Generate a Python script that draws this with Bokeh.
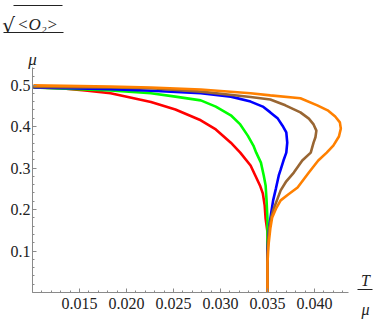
from bokeh.plotting import figure
from bokeh.models import Range1d, FixedTicker, Label, BoxAnnotation
from bokeh.embed import file_html
from bokeh.resources import INLINE

# ---- data ----
T_red = [0.0101, 0.0130, 0.0156, 0.0183, 0.0204, 0.0226, 0.0252, 0.0279, 0.0295, 0.0311, 0.0321,
         0.0332, 0.0337, 0.0342, 0.0345, 0.0347, 0.0348, 0.0350, 0.0350, 0.0350]
O_red = [0.494, 0.492, 0.487, 0.480, 0.470, 0.459, 0.441, 0.415, 0.393, 0.361, 0.337,
         0.306, 0.282, 0.258, 0.239, 0.210, 0.178, 0.145, 0.113, 0.0]

T_green = [0.0101, 0.0183, 0.0226, 0.0252, 0.0279, 0.0295, 0.0311, 0.0321, 0.0329, 0.0335,
           0.0338, 0.0343, 0.0346, 0.0348, 0.0349, 0.0350, 0.0350, 0.0350]
O_green = [0.494, 0.487, 0.480, 0.472, 0.463, 0.448, 0.427, 0.405, 0.378, 0.354,
           0.337, 0.313, 0.282, 0.258, 0.222, 0.174, 0.137, 0.0]

T_blue = [0.0101, 0.0183, 0.0226, 0.0279, 0.0311, 0.0332, 0.0345, 0.0353, 0.0361, 0.0366, 0.0370,
          0.0371, 0.0370, 0.0367, 0.0364, 0.0362, 0.0359, 0.0356, 0.0354, 0.0352, 0.0351, 0.0350, 0.0350]
O_blue = [0.494, 0.490, 0.486, 0.480, 0.472, 0.460, 0.448, 0.434, 0.419, 0.402, 0.386,
          0.361, 0.337, 0.318, 0.296, 0.282, 0.251, 0.222, 0.193, 0.161, 0.137, 0.101, 0.0]

T_brown = [0.0101, 0.0183, 0.0226, 0.0279, 0.0332, 0.0353, 0.0369, 0.0385, 0.0394, 0.0399, 0.0402,
           0.0401, 0.0399, 0.0396, 0.0387, 0.0378, 0.0370, 0.0364, 0.0360, 0.0356, 0.0354, 0.0352,
           0.0351, 0.0350, 0.0350]
O_brown = [0.495, 0.494, 0.492, 0.484, 0.471, 0.465, 0.451, 0.434, 0.419, 0.405, 0.390,
           0.374, 0.361, 0.337, 0.318, 0.289, 0.268, 0.246, 0.222, 0.198, 0.181, 0.157,
           0.133, 0.089, 0.0]

T_orange = [0.0101, 0.0183, 0.0226, 0.0279, 0.0332, 0.0353, 0.0385, 0.0403, 0.0414, 0.0422, 0.0427,
            0.0428, 0.0426, 0.0420, 0.0413, 0.0404, 0.0394, 0.0382, 0.0372, 0.0364, 0.0359, 0.0355,
            0.0353, 0.0351, 0.0350, 0.0350]
O_orange = [0.499, 0.496, 0.494, 0.489, 0.480, 0.475, 0.468, 0.451, 0.439, 0.424, 0.410,
            0.395, 0.376, 0.354, 0.337, 0.318, 0.289, 0.253, 0.236, 0.222, 0.202, 0.181,
            0.154, 0.113, 0.072, 0.0]

x_major = [0.015, 0.020, 0.025, 0.030, 0.035, 0.040]
x_minor = [round(0.010 + 0.001 * i, 3) for i in range(34)]
y_major = [0.1, 0.2, 0.3, 0.4, 0.5]
y_minor = [round(0.02 * i, 2) for i in range(28)]

series = [
    (T_red, O_red, "#FF0000"),
    (T_green, O_green, "#00FF00"),
    (T_blue, O_blue, "#0000FF"),
    (T_brown, O_brown, "#996633"),
    (T_orange, O_orange, "#FF8000"),
]

W, H = 374, 319
PX_PER_T = 9400.0     # pixels per unit of T/mu
PX_PER_O = 415.0      # pixels per unit of sqrt(O2)/mu
ORIGIN_X, ORIGIN_Y = 32, 292   # canvas position of (0.010, 0)

x0 = 0.010 - ORIGIN_X / PX_PER_T
x1 = x0 + W / PX_PER_T
y0 = -(H - ORIGIN_Y) / PX_PER_O
y1 = y0 + H / PX_PER_O

p = figure(width=W, height=H, output_backend="svg", toolbar_location=None,
           x_range=Range1d(x0, x1), y_range=Range1d(y0, y1),
           min_border=0)
p.outline_line_color = None
p.grid.visible = False
p.background_fill_color = "white"
p.border_fill_color = "white"

for xs, ys, c in series:
    p.line(xs, ys, line_color=c, line_width=2.6)

ax_col = "#8a8a8a"
for ax in (p.xaxis[0], p.yaxis[0]):
    ax.axis_line_color = ax_col
    ax.major_tick_line_color = ax_col
    ax.minor_tick_line_color = ax_col
    ax.major_tick_in = 4
    ax.major_tick_out = 0
    ax.minor_tick_in = 2
    ax.minor_tick_out = 0
    ax.major_label_text_font = "Liberation Serif"
    ax.major_label_text_font_size = "16px"
    ax.major_label_text_color = "#222222"

p.xaxis[0].fixed_location = 0.0
p.yaxis[0].fixed_location = 0.010
p.xaxis[0].bounds = (0.010, 0.04362)
p.yaxis[0].bounds = (0.0, 0.542)
p.xaxis[0].major_label_standoff = 5
p.yaxis[0].major_label_standoff = 2

p.xaxis[0].ticker = FixedTicker(ticks=x_major, minor_ticks=x_minor)
p.yaxis[0].ticker = FixedTicker(ticks=y_major, minor_ticks=y_minor)
p.xaxis[0].major_label_overrides = {v: f"{v:.3f}" for v in x_major}
p.yaxis[0].major_label_overrides = {v: f"{v:.1f}" for v in y_major}

# page coords -> frame screen coords (frame = whole canvas at page (0, 0))
def fx(px):
    return px

def fy(py):
    return H - py

def lbl(text, px, py, size, style="italic", font="Liberation Serif"):
    p.add_layout(Label(x=fx(px), y=fy(py), x_units="screen", y_units="screen", text=text,
                       text_font=font, text_font_size=size,
                       text_font_style=style, text_align="center", text_baseline="alphabetic",
                       text_color="#222222"))

def bar(px0, px1, py):
    p.add_layout(BoxAnnotation(left=fx(px0), right=fx(px1), top=fy(py) + 0.6, bottom=fy(py) - 0.6,
                               left_units="screen", right_units="screen",
                               top_units="screen", bottom_units="screen",
                               fill_color="#222222", fill_alpha=1.0, line_color=None))

# y label: sqrt(<O2>) / mu  (placed top-left of the plot)
lbl("\u221a", 8, 24, "20px", style="normal", font="DejaVu Serif")
lbl("<O\u2082>", 37, 24, "17px")
bar(13, 62, 5)
bar(3, 63, 32)
lbl("\u03bc", 32, 59, "17px")

# x label: T / mu  (placed right of the x axis)
lbl("T", 365, 280, "16px")
bar(357, 372, 289)
lbl("\u03bc", 365, 309, "16px")

open("out.html", "w").write(file_html(p, INLINE))
